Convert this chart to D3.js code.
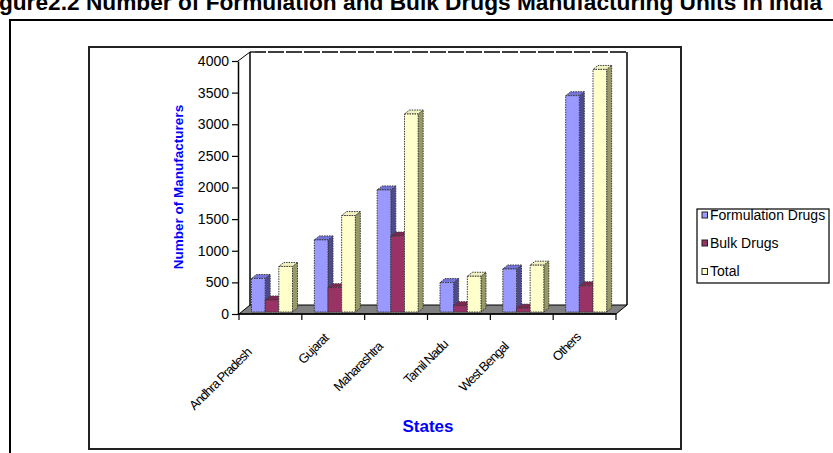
<!DOCTYPE html>
<html>
<head>
<meta charset="utf-8">
<script src="https://cdn.jsdelivr.net/npm/d3@7/dist/d3.min.js"></script>
<style>
  html, body { margin: 0; padding: 0; background: #fff; }
  svg { display: block; font-family: "Liberation Sans", Arial, sans-serif; }
</style>
</head>
<body>
<svg id="chart" width="833" height="453"></svg>
<script>
// Manufacturing units by state
const states = ["Andhra Pradesh", "Gujarat", "Maharashtra", "Tamil Nadu", "West Bengal", "Others"];
const seriesNames = ["Formulation Drugs", "Bulk Drugs", "Total"];
const formulation = [530, 1140, 1930, 465, 680, 3420];
const bulk = [190, 385, 1200, 100, 60, 415];
const total = [720, 1525, 3130, 565, 740, 3835];
const yTicks = [0, 500, 1000, 1500, 2000, 2500, 3000, 3500, 4000];

const seriesValues = [formulation, bulk, total];

// face colours per series: front, top, side
const palette = [
  { front: "#9999ff", top: "#7373d9", side: "#4c4c8c" },
  { front: "#993366", top: "#7d2852", side: "#4d1933" },
  { front: "#ffffcc", top: "#f0f0c0", side: "#999966" }
];

const FONT = "Liberation Sans, Arial, sans-serif";
const svg = d3.select("#chart");

// page title (runs past the top-left edge of the page)
svg.append("text")
  .attr("x", 822).attr("y", 10)
  .attr("text-anchor", "end")
  .attr("font-weight", "bold")
  .attr("font-size", 22.7)
  .attr("fill", "#000")
  .text("Figure2.2 Number of Formulation and Bulk Drugs Manufacturing Units in India");

// outer page frame
svg.append("path")
  .attr("d", "M10,455 V20 H840")
  .attr("fill", "none").attr("stroke", "#000").attr("stroke-width", 2);

// chart frame
svg.append("rect")
  .attr("x", 89).attr("y", 47).attr("width", 592).attr("height", 402)
  .attr("fill", "#fff").attr("stroke", "#222").attr("stroke-width", 2);

// scales
const y = d3.scaleLinear().domain([0, 4000]).range([314, 61]);
const x0 = d3.scaleBand().domain(states).range([239, 616]).padding(0);
const x1 = d3.scaleBand().domain(seriesNames).range([12.5, 53.5]).padding(0);

// depth of the floor / walls and of the bars
const wallDx = 11, wallDy = -9;
const barDx = 5, barDy = -4;
const barLift = 2;

const g = svg.append("g");

// back wall
const wl = x0.range()[0] + wallDx, wr = x0.range()[1] + wallDx;
const wt = y(4000) + wallDy, wb = y(0) + wallDy;
g.append("rect")
  .attr("x", wl).attr("y", wt).attr("width", wr - wl).attr("height", wb - wt)
  .attr("fill", "#fff");
g.append("line").attr("x1", wl).attr("y1", wt).attr("x2", wl).attr("y2", wb)
  .attr("stroke", "#000").attr("stroke-width", 1.5);
g.append("line").attr("x1", wr).attr("y1", wt).attr("x2", wr).attr("y2", wb)
  .attr("stroke", "#000").attr("stroke-width", 1.5);
g.append("line").attr("x1", wl).attr("y1", wt).attr("x2", wr).attr("y2", wt)
  .attr("stroke", "#000").attr("stroke-width", 1.3).attr("stroke-dasharray", "16,2");
// side wall top edge
g.append("line").attr("x1", 238).attr("y1", y(4000)).attr("x2", wl).attr("y2", wt)
  .attr("stroke", "#000").attr("stroke-width", 1);

// floor
const fx0 = x0.range()[0], fx1 = x0.range()[1], fy = y(0);
g.append("path")
  .attr("d", `M${fx0},${fy} L${fx1},${fy} L${fx1 + wallDx},${fy + wallDy} L${fx0 + wallDx},${fy + wallDy} Z`)
  .attr("fill", "#808080").attr("stroke", "#000").attr("stroke-width", 1);

// bars, drawn left to right so each one hides its neighbour's side face
const bars = [];
states.forEach((s, i) => {
  seriesNames.forEach((name, k) => {
    bars.push({ state: s, series: k, name, value: seriesValues[k][i] });
  });
});

const barG = g.append("g");
bars.forEach(d => {
  const c = palette[d.series];
  const xl = x0(d.state) + x1(d.name);
  const xr = xl + x1.bandwidth();
  const yb = y(0) - barLift;
  const yt = y(d.value) - barLift;
  const bg = barG.append("g")
    .attr("stroke", "#3a3a3a").attr("stroke-width", 1).attr("stroke-dasharray", "1.5,1");
  // side
  bg.append("path")
    .attr("d", `M${xr},${yb} L${xr + barDx},${yb + barDy} L${xr + barDx},${yt + barDy} L${xr},${yt} Z`)
    .attr("fill", c.side);
  // top
  bg.append("path")
    .attr("d", `M${xl},${yt} L${xr},${yt} L${xr + barDx},${yt + barDy} L${xl + barDx},${yt + barDy} Z`)
    .attr("fill", c.top);
  // front
  bg.append("rect")
    .attr("x", xl).attr("y", yt).attr("width", xr - xl).attr("height", yb - yt)
    .attr("fill", c.front);
});

// value axis
const yAxis = d3.axisLeft(y).tickValues(yTicks).tickFormat(d3.format("d"))
  .tickSize(6).tickSizeOuter(0).tickPadding(3);
const yAxisG = svg.append("g").attr("transform", "translate(238,0)").call(yAxis);
yAxisG.select(".domain").attr("stroke", "#000").attr("stroke-width", 1.5);
yAxisG.selectAll(".tick line").attr("stroke", "#000").attr("stroke-width", 1.2);
yAxisG.selectAll(".tick text")
  .attr("font-family", FONT)
  .attr("font-size", 14).attr("fill", "#000");

// category axis
const catG = svg.append("g");
catG.append("line")
  .attr("x1", 238).attr("x2", x0.range()[1]).attr("y1", y(0)).attr("y2", y(0))
  .attr("stroke", "#000").attr("stroke-width", 1.5);
const bounds = states.map(s => x0(s)).concat([x0.range()[1]]);
catG.selectAll("line.tick").data(bounds).enter().append("line")
  .attr("class", "tick")
  .attr("x1", d => d).attr("x2", d => d)
  .attr("y1", y(0)).attr("y2", y(0) + 6)
  .attr("stroke", "#000").attr("stroke-width", 1.2);

// slanted category labels; longer names slide further down their slant line
const slant = Math.SQRT1_2;
catG.selectAll("text.cat").data(states).enter().append("text")
  .attr("class", "cat")
  .attr("text-anchor", "end")
  .attr("font-size", 13)
  .attr("letter-spacing", "-0.9")
  .attr("fill", "#000")
  .text(d => d)
  .attr("transform", function (d) {
    const len = this.getComputedTextLength();
    const shift = 0.45 * (len - 38) * slant;
    const ex = x0(d) + x0.bandwidth() / 2 - 4.5 - shift;
    const ey = 339.5 + shift;
    return `translate(${ex},${ey}) rotate(-45)`;
  });

// axis titles
svg.append("text")
  .attr("transform", "translate(183,187) rotate(-90)")
  .attr("text-anchor", "middle")
  .attr("font-weight", "bold").attr("font-size", 13.5)
  .attr("fill", "#0000ff")
  .text("Number of Manufacturers");
svg.append("text")
  .attr("x", 428).attr("y", 432)
  .attr("text-anchor", "middle")
  .attr("font-weight", "bold").attr("font-size", 17)
  .attr("fill", "#0000ff")
  .text("States");

// legend
const lg = svg.append("g");
lg.append("rect")
  .attr("x", 697).attr("y", 209).attr("width", 132).attr("height", 74)
  .attr("fill", "#fff").attr("stroke", "#000").attr("stroke-width", 1.2);
const legendY = [215, 243, 271.5];
seriesNames.forEach((name, k) => {
  lg.append("rect")
    .attr("x", 702).attr("y", legendY[k] - 3).attr("width", 5.5).attr("height", 6)
    .attr("fill", palette[k].front).attr("stroke", "#222").attr("stroke-width", 1);
  lg.append("text")
    .attr("x", 710).attr("y", legendY[k] + 4.5)
    .attr("font-size", 14).attr("fill", "#000")
    .text(name);
});
</script>
</body>
</html>
